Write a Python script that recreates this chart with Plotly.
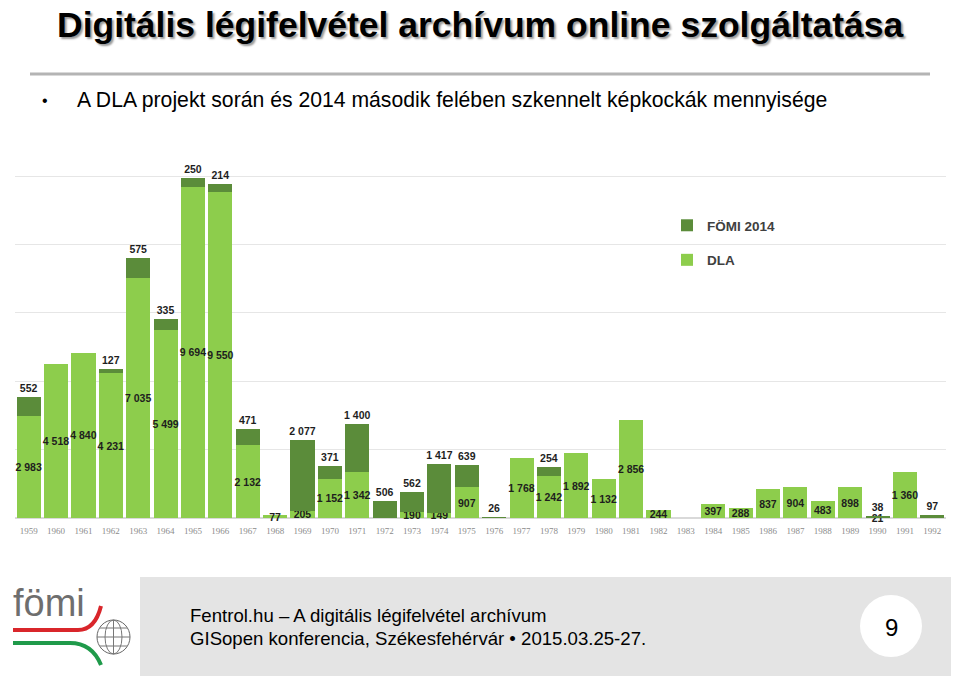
import plotly.graph_objects as go

years = [str(y) for y in range(1959, 1993)]
dla = [2983, 4518, 4840, 4231, 7035, 5499, 9694, 9550, 2132, 77,
       205, 1152, 1342, 0, 190, 149, 907, 0, 1768, 1242,
       1892, 1132, 2856, 244, 0, 397, 288, 837, 904, 483,
       898, 21, 1360, 0]
fomi = [552, 0, 0, 127, 575, 335, 250, 214, 471, 0,
        2077, 371, 1400, 506, 562, 1417, 639, 26, 0, 254,
        0, 0, 0, 0, 0, 0, 0, 0, 0, 0,
        0, 38, 0, 97]

def fmt(v):
    return "" if v == 0 else f"{v:,}".replace(",", " ")

# page offset of the plot div (default body margin)
OFF = 8
W, H = 959 - OFF, 676 - OFF
# plot area in page pixels
L, R, T, B = 15, 946, 142, 518

def px(x):
    return (x - L) / (R - L)

def py(y):
    return (B - y) / (B - T)

SANS = "Liberation Sans, Arial, sans-serif"
LBL = dict(family=SANS, size=10.5, color="#1e1e1e", weight="bold")

fig = go.Figure()
fig.add_trace(go.Bar(
    x=years, y=dla, name="DLA", marker_color="#8DCD4C", marker_line_width=0,
    text=[fmt(v) for v in dla], textposition="inside", insidetextanchor="middle",
    constraintext="none", textangle=0, cliponaxis=False, textfont=LBL,
    legendgroup="dla", legendrank=2))
fig.add_trace(go.Bar(
    x=years, y=fomi, name="FÖMI 2014", marker_color="#5B8C3A", marker_line_width=0,
    text=[fmt(v) for v in fomi], textposition="outside", constraintext="none",
    textangle=0, cliponaxis=False, textfont=LBL,
    legendgroup="fomi", legendrank=1))

def line(x0, y0, x1, y1, color, width):
    return dict(type="line", xref="paper", yref="paper", x0=px(x0), x1=px(x1),
                y0=py(y0), y1=py(y1), line=dict(color=color, width=width))

shapes = [
    line(30, 74, 930, 74, "#B4B4B4", 3),
    dict(type="rect", xref="paper", yref="paper", x0=px(140), x1=px(975), y0=py(577), y1=py(690),
         fillcolor="#E4E4E4", line_width=0, layer="below"),
    dict(type="circle", xref="paper", yref="paper", x0=px(860), x1=px(922), y0=py(595), y1=py(657),
         fillcolor="white", line_width=0),
    dict(type="path", xref="paper", yref="paper",
         path=f"M {px(13)},{py(630)} L {px(78)},{py(630)} Q {px(95)},{py(630)} {px(101)},{py(606)}",
         line=dict(color="#D9262B", width=4)),
    dict(type="path", xref="paper", yref="paper",
         path=f"M {px(13)},{py(643)} L {px(70)},{py(643)} Q {px(92)},{py(643)} {px(101)},{py(665)}",
         line=dict(color="#1F9A4A", width=4)),
    dict(type="circle", xref="paper", yref="paper", x0=px(97), x1=px(130), y0=py(620), y1=py(654),
         line=dict(color="#666", width=1), fillcolor="rgba(0,0,0,0)"),
    dict(type="circle", xref="paper", yref="paper", x0=px(105), x1=px(122), y0=py(620), y1=py(654),
         line=dict(color="#777", width=1), fillcolor="rgba(0,0,0,0)"),
    line(97, 637, 130, 637, "#777", 1),
    line(100, 628, 127, 628, "#777", 1),
    line(100, 646, 127, 646, "#777", 1),
    line(113.5, 620, 113.5, 654, "#777", 1),
]

def ann(text, x, y, size, xanchor="left", color="black", weight="normal", shadow=None):
    f = dict(family=SANS, size=size, color=color, weight=weight)
    if shadow:
        f["shadow"] = shadow
    return dict(text=text, xref="paper", yref="paper", x=px(x), y=py(y), xanchor=xanchor,
                yanchor="middle", showarrow=False, font=f)

annotations = [
    ann("Digitális légifelvétel archívum online szolgáltatása", 480, 25, 35.5, "center",
        weight="bold", shadow="2px 2px 2px #9a9a9a"),
    ann("•", 40, 100, 16),
    ann("A DLA projekt során és 2014 második felében szkennelt képkockák mennyisége", 75, 100, 21.2),
    ann("Fentrol.hu – A digitális légifelvétel archívum", 188, 615, 18.6),
    ann("GISopen konferencia, Székesfehérvár • 2015.03.25-27.", 188, 638, 18.6),
    ann("9", 891, 627, 24, "center"),
    ann("fömi", 11, 603, 38, color="#6e6e6e"),
]

fig.update_layout(
    width=W, height=H,
    margin=dict(l=L - OFF, r=W - (R - OFF), t=T - OFF, b=H - (B - OFF), pad=0),
    paper_bgcolor="white", plot_bgcolor="white",
    barmode="stack", bargap=0.12,
    uniformtext=dict(minsize=10, mode="show"),
    showlegend=True,
    legend=dict(x=px(667), y=py(210), xanchor="left", yanchor="top",
                traceorder="grouped", tracegroupgap=14,
                bgcolor="rgba(0,0,0,0)",
                font=dict(family=SANS, size=13.5, color="#404040", weight="bold"),
                itemwidth=30),
    xaxis=dict(type="category", tickfont=dict(family="Liberation Serif, serif", size=9, color="#8c8c8c"),
               showline=False, ticks="", showgrid=False, ticklabelstandoff=6),
    yaxis=dict(range=[0, 11000], dtick=2000, showticklabels=False, showgrid=True,
               gridcolor="#E6E6E6", gridwidth=1, zeroline=True, zerolinecolor="#D9D9D9"),
    shapes=shapes, annotations=annotations,
)

fig.write_html("out.html")
